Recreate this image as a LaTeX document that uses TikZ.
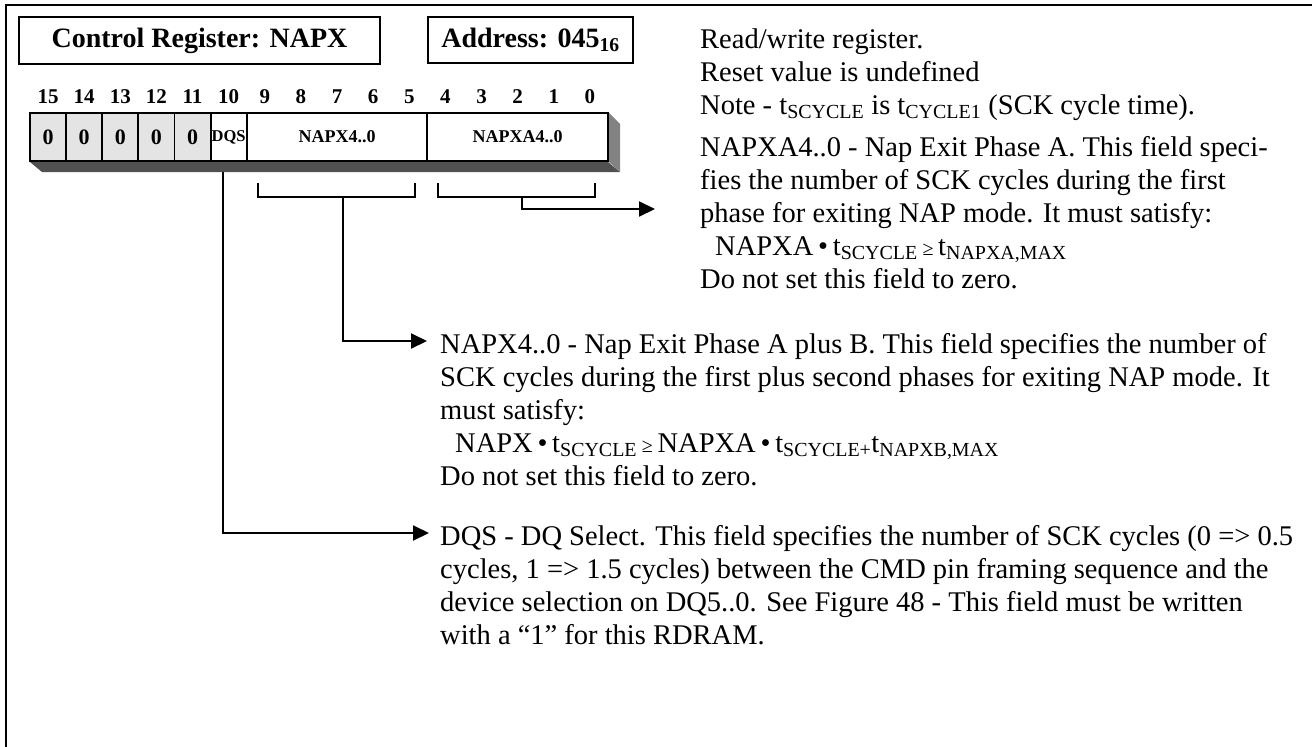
\documentclass[tikz,border=0pt]{standalone}
\usepackage{fontspec}
\setmainfont{Liberation Serif}
\usetikzlibrary{arrows.meta}

\definecolor{zerogray}{RGB}{228,228,228}
\definecolor{shadebottom}{RGB}{80,80,80}
\definecolor{shadeside}{RGB}{130,130,130}

\newcommand{\sz}[2]{\fontsize{#1}{#2}\selectfont}

\tikzset{
  titlebox/.style={draw, line width=1.8pt, inner sep=0pt, font=\sz{28}{32}\bfseries},
  bitnum/.style={inner sep=0pt, font=\sz{21}{24}\bfseries},
  regcell/.style={draw, line width=1.8pt, anchor=north west, inner sep=0pt, outer sep=0pt,
                  minimum width=36.125pt, minimum height=48pt},
  desc/.style={anchor=north west, inner sep=0pt, align=left, font=\sz{28.5}{33}},
  conn/.style={line width=2pt},
  connarrow/.style={conn, -{Triangle[length=16pt,width=15pt]}}
}

\begin{document}
\begin{tikzpicture}[x=1pt,y=-1pt]
  \useasboundingbox (0,0) rectangle (1312,747);
  % outer frame (top and left only)
  \draw[line width=2.4pt] (1312,5) -- (6,5) -- (6,747);

  % header boxes
  \node[titlebox, minimum width=361pt, minimum height=47pt] (title) at (199.5,40.5) {Control Register: NAPX};
  \node[titlebox, minimum width=205pt, minimum height=46pt] (addr) at (530.5,40) {Address: 045\textsubscript{16}};

  % bit numbers
  \foreach \bit [count=\k from 0] in {15,14,...,0}
    \node[bitnum] (bit\bit) at (48.06+36.125*\k, 97) {\bit};

  % register cells
  \foreach \k in {0,...,4}
    \node[regcell, fill=zerogray, font=\sz{22}{24}\bfseries] (zero\k) at (30+36.125*\k, 113) {0};
  \node[regcell, font=\sz{16.5}{18}\bfseries] (dqs) at (210.6,113) {DQS};
  \node[regcell, minimum width=180.6pt, font=\sz{18}{20}\bfseries] (napx) at (246.75,113) {NAPX4..0};
  \node[regcell, minimum width=180.6pt, font=\sz{18}{20}\bfseries] (napxa) at (427.4,113) {NAPXA4..0};

  % descriptions
  \node[desc] (rwtext) at (700,24.9) {\strut Read/write register.\\
    Reset value is undefined\\
    Note - t\textsubscript{SCYCLE} is t\textsubscript{CYCLE1} (SCK cycle time).};
  \node[desc] (napxatext) at (700,132.9) {\strut NAPXA4..0 - Nap Exit Phase A. This field speci-\\
    fies the number of SCK cycles during the first\\
    phase for exiting NAP mode. It must satisfy:\\
    \hspace*{15pt}NAPXA\,•\,t\textsubscript{SCYCLE}\,{\sz{20}{20}≥}\,t\textsubscript{NAPXA,MAX}\\
    Do not set this field to zero.};
  \node[desc] (napxtext) at (440,329.9) {\strut NAPX4..0 - Nap Exit Phase A plus B. This field specifies the number of\\
    SCK cycles during the first plus second phases for exiting NAP mode. It\\
    must satisfy:\\
    \hspace*{15pt}NAPX\,•\,t\textsubscript{SCYCLE}\,{\sz{20}{20}≥}\,NAPXA\,•\,t\textsubscript{SCYCLE+}t\textsubscript{NAPXB,MAX}\\
    Do not set this field to zero.};
  \node[desc] (dqstext) at (440,521.9) {\strut DQS - DQ Select. This field specifies the number of SCK cycles (0 => 0.5\\
    cycles, 1 => 1.5 cycles) between the CMD pin framing sequence and the\\
    device selection on DQ5..0. See Figure 48 - This field must be written\\
    with a “1” for this RDRAM.};

  % brackets and arrows
  \coordinate (napxstem) at (343,197);
  \coordinate (napxtip) at (427,341);
  \coordinate (napxastem) at (522,197);
  \coordinate (napxatip) at (655,209);
  \coordinate (dqstip) at (429,533);
  \draw[conn] (258,183) |- (415,197) -- (415,183);
  \draw[conn] (438,183) |- (595,197) -- (595,183);
  \draw[connarrow] (napxstem) |- (napxtip);
  \draw[connarrow] (napxastem) |- (napxatip);
  \draw[connarrow] ([xshift=-6pt]dqs.south) |- (dqstip);

  % shadow of the register
  \fill[shadebottom] (30,162) -- (608,162) -- (620,172) -- (42,172) -- cycle;
  \fill[shadeside] (609,113) -- (620,124) -- (620,172) -- (609,162) -- cycle;
\end{tikzpicture}
\end{document}
